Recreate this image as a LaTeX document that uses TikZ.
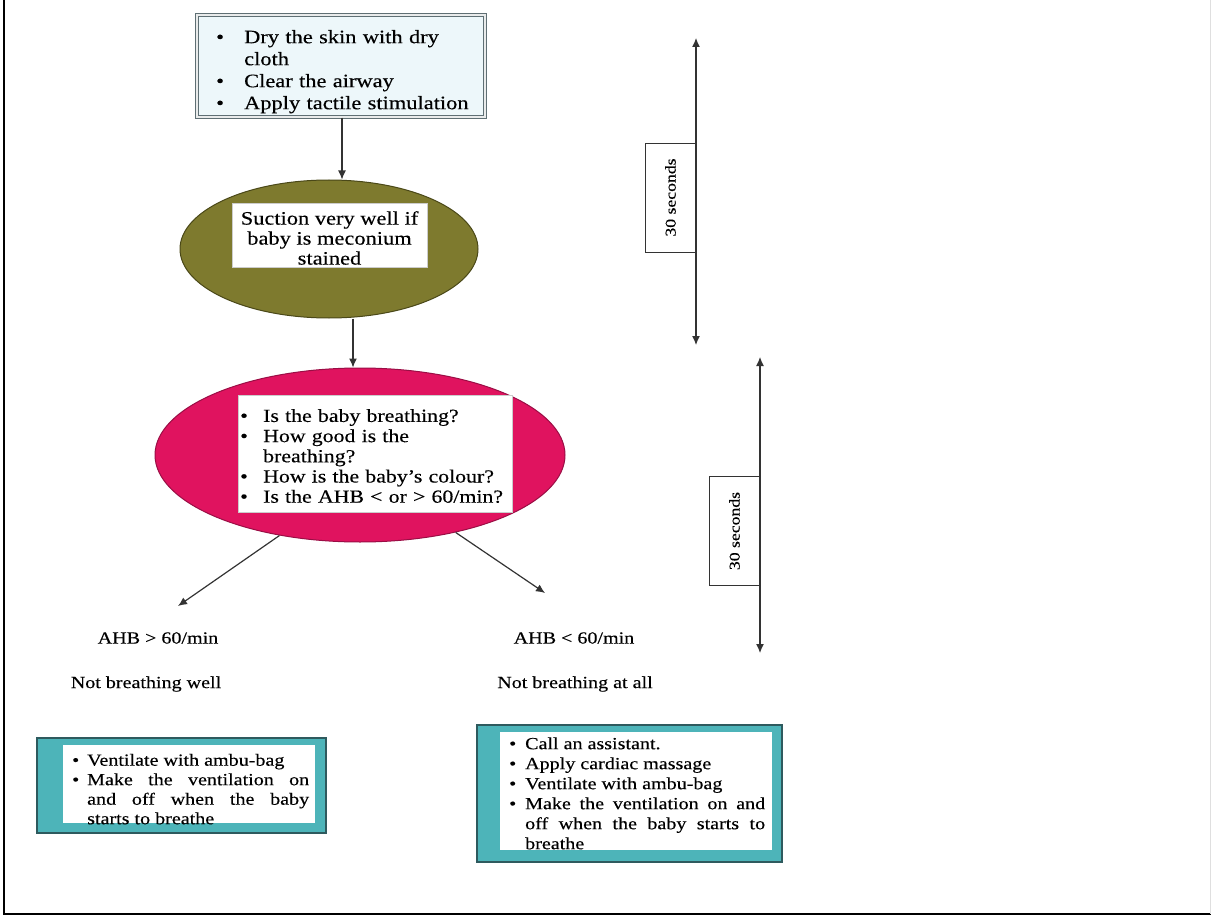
\documentclass[tikz,border=0pt]{standalone}
\usepackage{fontspec}
\setmainfont{Liberation Serif}[FakeStretch=1.18,FakeBold=0.3]
\usetikzlibrary{shapes.geometric,arrows.meta}
\definecolor{olivefill}{HTML}{7E7A2E}
\definecolor{oliveline}{HTML}{4A4818}
\definecolor{pinkfill}{HTML}{E0135F}
\definecolor{pinkline}{HTML}{9A0E45}
\definecolor{tealfill}{HTML}{4DB4B9}
\definecolor{tealline}{HTML}{2E5A5E}
\definecolor{paleblue}{HTML}{EDF7FA}
\definecolor{boxgray}{HTML}{5F6F74}
\definecolor{linecol}{HTML}{333333}
\newcommand{\bitem}[2]{\par\noindent\hangindent=#1\relax\hangafter=1\relax\makebox[#1][l]{\textbullet}#2\par}
\begin{document}
\begin{tikzpicture}[x=1pt,y=-1pt,
  >={Latex[length=9pt,width=8pt]},
  arr/.style={draw=linecol,line width=1.2pt,->},
  darr/.style={draw=linecol,line width=1.2pt,<->},
  secbox/.style={draw=linecol,line width=0.9pt,fill=white,rotate=90,minimum width=109pt,minimum height=51pt,inner sep=0pt,font=\fontsize{15}{15}\selectfont},
  lbl/.style={inner sep=0pt,font=\fontsize{17}{20}\selectfont},
  outerbox/.style={fill=tealfill,draw=tealline,line width=2.2pt,inner sep=0pt},
  innerbox/.style={fill=white,inner sep=0pt},
  listtext/.style={anchor=north west,inner sep=0pt}
]
\useasboundingbox (0,0) rectangle (1211,915);
% frame
\draw[line width=2pt] (4,0) -- (4,914) -- (1211,914);
\draw[gray!25,line width=1pt] (1210,0) -- (1210,914);

% top box
\node[fill=paleblue,draw=boxgray,line width=1.2pt,double=paleblue!50!gray!30,double distance=1.2pt,minimum width=288pt,minimum height=102pt,inner sep=0pt] (top) at (341,66) {};
\node[listtext,text width=262pt,align=left,font=\fontsize{19}{22}\selectfont] (toptext) at (216,21)
 {\bitem{28pt}{Dry the skin with dry\linebreak cloth}\bitem{28pt}{Clear the airway}\bitem{28pt}{Apply tactile stimulation}};

% olive ellipse
\node[ellipse,fill=olivefill,draw=oliveline,line width=1pt,minimum width=298pt,minimum height=138pt,inner sep=0pt] (olive) at (329,249) {};
\node[innerbox,draw=gray!40,minimum width=195pt,minimum height=64pt] (olivebox) at (329.5,235) {};
\node[inner sep=0pt,align=center,font=\fontsize{19}{20}\selectfont] (olivetext) at (329.5,238) {Suction very well if\\baby is meconium\\stained};

% pink ellipse
\node[ellipse,fill=pinkfill,draw=pinkline,line width=1pt,minimum width=410pt,minimum height=174pt,inner sep=0pt] (pink) at (360,455) {};
\node[innerbox,draw=gray!40,minimum width=274pt,minimum height=117pt] (pinkbox) at (375,453.5) {};
\node[listtext,text width=266pt,align=left,font=\fontsize{18.5}{20.2}\selectfont] (pinktext) at (240,401.5)
 {\bitem{23pt}{Is the baby breathing?}\bitem{23pt}{How good is the\linebreak breathing?}\bitem{23pt}{How is the baby's colour?}\bitem{23pt}{Is the AHB < or > 60/min?}};

% arrows
\draw[arr] ([xshift=1pt]top.south) -- ([xshift=1pt]top.south |- olive.north);
\coordinate (ostart) at ([xshift=24pt]olive.south);
\draw[arr] (ostart |- olive.south) -- (ostart |- pink.north);
\coordinate (lefttip) at (178,606);
\coordinate (righttip) at (545,593);
\draw[arr] (pink.-135) -- (lefttip);
\draw[arr] (pink.-39) -- (righttip);

% labels
\node[lbl] (lab1) at (158,638) {AHB > 60/min};
\node[lbl] (lab2) at (146,684) {Not breathing well};
\node[lbl] (lab3) at (574,638) {AHB < 60/min};
\node[lbl] (lab4) at (575,684) {Not breathing at all};

% bottom left box
\node[outerbox,minimum width=289pt,minimum height=95pt] (lbox) at (181.5,785.5) {};
\node[innerbox,minimum width=252pt,minimum height=78pt] (lin) at (189,784) {};
\node[listtext,text width=237pt,align=justify,font=\fontsize{17}{19.5}\selectfont] (ltext) at (72,746)
 {\bitem{15pt}{Ventilate with ambu-bag}\bitem{15pt}{Make the ventilation on\linebreak and off when the baby\linebreak starts to breathe}};

% bottom right box
\node[outerbox,minimum width=305pt,minimum height=137pt] (rbox) at (629.5,793.5) {};
\node[innerbox,minimum width=272pt,minimum height=118pt] (rin) at (636,791) {};
\node[listtext,text width=256pt,align=justify,font=\fontsize{17}{20}\selectfont] (rtext) at (509,729)
 {\bitem{16pt}{Call an assistant.}\bitem{16pt}{Apply cardiac massage}\bitem{16pt}{Ventilate with ambu-bag}\bitem{16pt}{Make the ventilation on and\linebreak off when the baby starts to\linebreak breathe}};

% timelines
\node[secbox] (t1box) at (670.5,197.5) {30 seconds};
\coordinate (t1top) at (696,38);
\coordinate (t1bot) at (696,345);
\draw[darr] (t1top) -- (t1bot);
\node[secbox] (t2box) at (734.5,531) {30 seconds};
\coordinate (t2top) at (760,357);
\coordinate (t2bot) at (760,653);
\draw[darr] (t2top) -- (t2bot);
\end{tikzpicture}
\end{document}
